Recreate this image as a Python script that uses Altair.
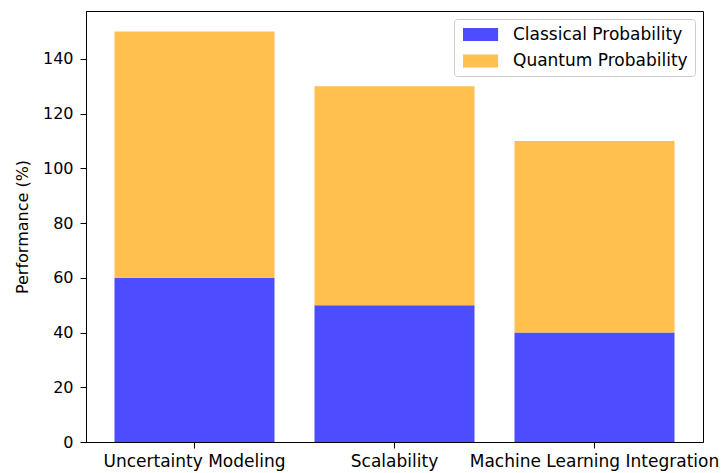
import altair as alt
import pandas as pd

categories = ["Uncertainty Modeling", "Scalability", "Machine Learning Integration"]
classical = [60, 50, 40]
quantum = [90, 80, 70]
series_names = ["Classical Probability", "Quantum Probability"]
series_colors = ["#4d4dff", "#ffc04d"]

rows = []
for c, a, b in zip(categories, classical, quantum):
    rows.append({"category": c, "series": series_names[0], "value": a, "ord": 0})
    rows.append({"category": c, "series": series_names[1], "value": b, "ord": 1})
df = pd.DataFrame(rows)

FONT = "DejaVu Sans"

chart = alt.Chart(df).mark_bar().encode(
    x=alt.X("category:N", sort=categories, title=None,
            scale=alt.Scale(paddingInner=0.2, paddingOuter=0.1425),
            axis=alt.Axis(labelAngle=0, labelFontSize=17, labelFont=FONT, labelColor="black",
                          tickColor="black", tickSize=6, domainColor="black", labelPadding=5,
                          labelLimit=0, grid=False)),
    y=alt.Y("value:Q", stack="zero", title="Performance (%)",
            scale=alt.Scale(domain=[0, 157.5], nice=False),
            axis=alt.Axis(values=[0, 20, 40, 60, 80, 100, 120, 140], labelFontSize=16, labelFont=FONT,
                          labelColor="black", tickColor="black", tickSize=6, domainColor="black",
                          labelPadding=7, grid=False, titleFont=FONT, titleFontSize=16,
                          titleFontWeight="normal", titleColor="black", titlePadding=12)),
    color=alt.Color("series:N", sort=series_names,
                    scale=alt.Scale(domain=series_names, range=series_colors),
                    legend=alt.Legend(title=None, orient="top-right", offset=8,
                                      labelFont=FONT, labelFontSize=17, labelColor="black",
                                      symbolType="M-1,-1 H4.4 V1 H-1 Z",
                                      symbolSize=169, symbolStrokeWidth=0, symbolOpacity=1,
                                      labelOffset=35, rowPadding=8.5, labelLimit=0,
                                      padding=7, strokeColor="#cccccc", fillColor="white",
                                      cornerRadius=3)),
    order=alt.Order("ord:Q"),
).properties(
    width=617, height=431,
    padding={"left": 86, "top": 11, "right": 19, "bottom": 31},
    autosize=alt.AutoSizeParams(type="none"),
).configure_view(stroke="black", strokeWidth=1)

chart.save("out.html", embed_options={"renderer": "svg", "actions": False})
